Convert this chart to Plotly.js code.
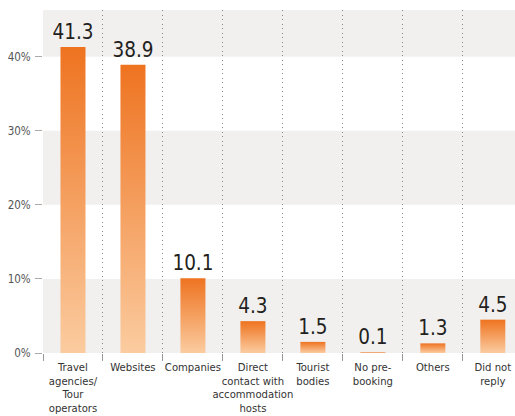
<!DOCTYPE html>
<html>
<head>
<meta charset="utf-8">
<script src="https://cdn.plot.ly/plotly-3.0.1.min.js"></script>
<style>
html,body{margin:0;padding:0;background:#fff;}
#chart{width:515px;height:416px;}
</style>
</head>
<body>
<div id="chart"></div>
<script>
const categories = [
  "Travel<br>agencies/<br>Tour<br>operators",
  "Websites",
  "Companies",
  "Direct<br>contact with<br>accommodation<br>hosts",
  "Tourist<br>bodies",
  "No pre-<br>booking",
  "Others",
  "Did not<br>reply"
];
const values = [41.3, 38.9, 10.1, 4.3, 1.5, 0.1, 1.3, 4.5];
const valueLabels = ["41.3", "38.9", "10.1", "4.3", "1.5", "0.1", "1.3", "4.5"];
const yTickVals = [0, 10, 20, 30, 40];
const yTickText = ["0%", "10%", "20%", "30%", "40%"];
const bandRanges = [[0, 10], [20, 30], [40, 46.3]];
const yMax = 46.3;

const FONT = "'DejaVu Sans Condensed', 'DejaVu Sans', sans-serif";

const trace = {
  type: "bar",
  x: categories,
  y: values,
  text: valueLabels,
  textposition: "outside",
  constraintext: "none",
  cliponaxis: false,
  textfont: {family: FONT, size: 20.5, color: "#231f20", stretch: "condensed"},
  marker: {color: "#ef7622", line: {width: 0}},
  width: 0.417,
  hoverinfo: "none"
};

const shapes = bandRanges.map(r => ({
  type: "rect", xref: "paper", yref: "y",
  x0: 0, x1: 1, y0: r[0], y1: r[1],
  fillcolor: "#f1f0ef", line: {width: 0}, layer: "below"
}));

const layout = {
  width: 515, height: 416,
  margin: {l: 43, r: 0, t: 10, b: 63, pad: 0},
  paper_bgcolor: "#ffffff",
  plot_bgcolor: "#ffffff",
  showlegend: false,
  shapes: shapes,
  xaxis: {
    type: "category",
    range: [-0.5, 7.37],
    tickson: "boundaries",
    ticks: "outside",
    ticklen: 7,
    tickwidth: 1,
    tickcolor: "#999999",
    showgrid: true,
    gridcolor: "#8a8a8a",
    gridwidth: 1,
    griddash: "1px,3.5px",
    showline: false,
    zeroline: false,
    tickangle: 0,
    ticklabelstandoff: 6,
    tickfont: {family: FONT, size: 11.2, color: "#333333", stretch: "condensed"},
    fixedrange: true
  },
  yaxis: {
    range: [0, yMax],
    tickvals: yTickVals,
    ticktext: yTickText,
    ticks: "outside",
    ticklen: 7,
    tickwidth: 1,
    tickcolor: "#aaaaaa",
    showgrid: false,
    zeroline: false,
    showline: false,
    ticklabelstandoff: 2,
    tickfont: {family: FONT, size: 11.5, color: "#555555", stretch: "condensed"},
    fixedrange: true
  }
};

Plotly.newPlot("chart", [trace], layout, {staticPlot: true, displayModeBar: false}).then(gd => {
  const svgNS = "http://www.w3.org/2000/svg";
  const svg = gd.querySelector(".main-svg");
  let defs = svg.querySelector("defs");
  if (!defs) { defs = document.createElementNS(svgNS, "defs"); svg.insertBefore(defs, svg.firstChild); }
  const grad = document.createElementNS(svgNS, "linearGradient");
  grad.setAttribute("id", "barGrad");
  grad.setAttribute("x1", "0"); grad.setAttribute("y1", "0");
  grad.setAttribute("x2", "0"); grad.setAttribute("y2", "1");
  [["0", "#ee7320"], ["1", "#fbcca0"]].forEach(([o, c]) => {
    const s = document.createElementNS(svgNS, "stop");
    s.setAttribute("offset", o); s.setAttribute("stop-color", c);
    grad.appendChild(s);
  });
  defs.appendChild(grad);
  gd.querySelectorAll(".bars .point path").forEach(p => { p.style.fill = "url(#barGrad)"; });
  // tighter line spacing for multi-line category labels
  gd.querySelectorAll(".xtick text tspan.line").forEach(t => {
    const dy = t.getAttribute("dy");
    if (dy && dy.endsWith("em")) {
      const v = parseFloat(dy);
      t.setAttribute("dy", (v * 1.2 / 1.3) + "em");
    }
  });
});
</script>
</body>
</html>
